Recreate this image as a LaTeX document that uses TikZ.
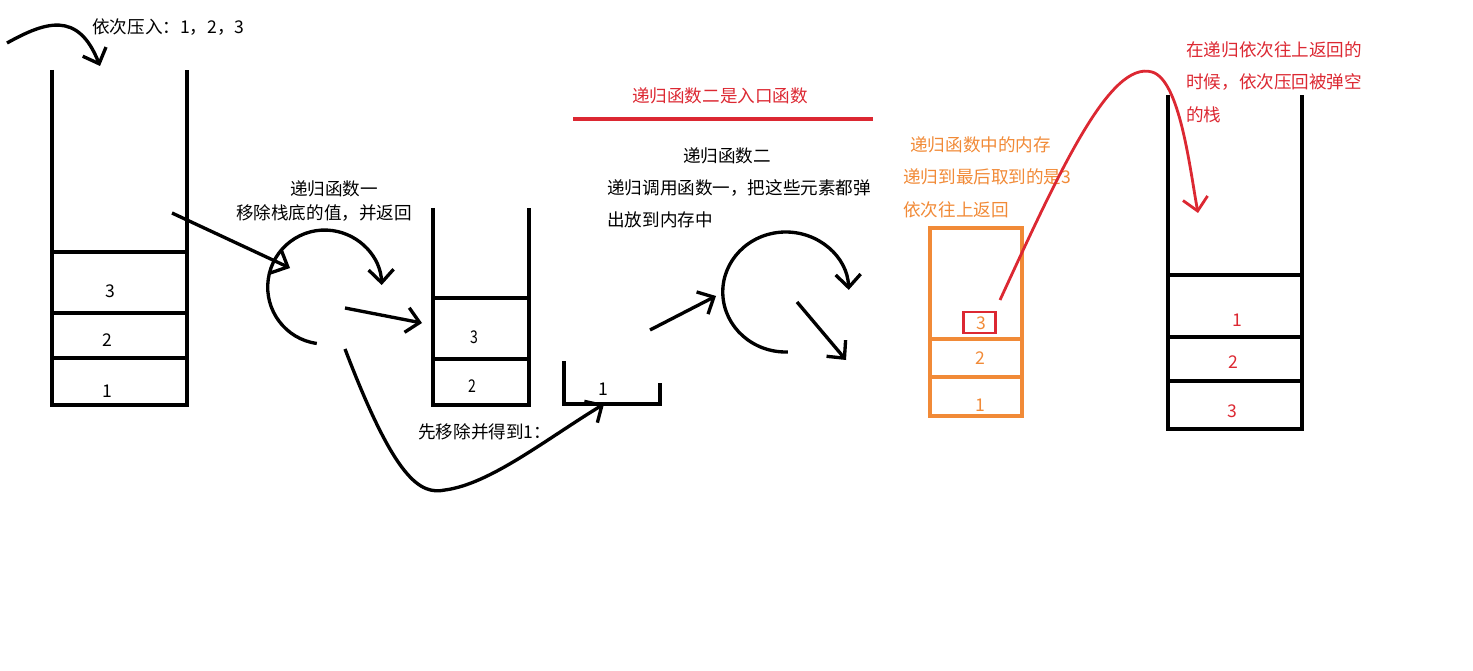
\documentclass[tikz,border=0pt]{standalone}
\usepackage{fontspec}
\newfontfamily\cjk{Noto Sans CJK SC}
\usepackage{tikz}
\usetikzlibrary{arrows.meta}
\definecolor{recred}{RGB}{220,40,50}
\definecolor{memorange}{RGB}{241,138,55}
\tikzstyle{arrow} = [line width=1.9pt,-{Straight Barb[length=2.6mm,width=5mm]}]
\tikzstyle{redarrow} = [arrow,recred,line width=1.6pt]
\tikzstyle{stack} = [line width=2pt]
\tikzstyle{lbl} = [font=\cjk\fontsize{10}{18.5}\selectfont,inner sep=0pt]
\tikzstyle{num} = [lbl]

\begin{document}
\begin{tikzpicture}[x=0.2mm,y=-0.2mm]
\useasboundingbox (0,0) rectangle (1473,671);

\draw[stack] (52,70) -- (52,405) -- (187,405) -- (187,70);
\foreach \y in {252,313,358} \draw[stack] (52,\y) -- (187,\y);
\node[num] (a3) at (110,291) {3};
\node[num] (a2) at (107,340) {2};
\node[num] (a1) at (107,391) {1};

\coordinate (pushS) at (7,43);
\coordinate (pushE) at (100,66);
\draw[arrow] (pushS) .. controls (45,22) and (78,10) .. (pushE);
\node[lbl,anchor=west] (push) at (92,27) {依次压入：1，2，3};

\node[lbl] (f1title) at (334,189) {递归函数一};
\node[lbl] (f1desc) at (324,213) {移除栈底的值，并返回};
\coordinate (c1) at (324,292);
\coordinate (in1S) at (172,213);
\coordinate (in1E) at (290,268);
\coordinate (out1S) at (345,308);
\coordinate (out1E) at (422,323);
\draw[arrow] (in1S) -- (in1E);
\draw[arrow] (c1) ++(98:52) arc[start angle=98,end angle=358,radius=57];
\draw[arrow] (out1S) -- (out1E);

\draw[stack] (433,208) -- (433,405) -- (529,405) -- (529,208);
\foreach \y in {298,359} \draw[stack] (433,\y) -- (529,\y);
\node[num,xscale=0.8] (b3) at (474,337) {3};
\node[num,xscale=0.8] (b2) at (472,386) {2};

\draw[stack] (564,361) -- (564,404) -- (660,404) -- (660,383);
\node[num] (c1num) at (603,389) {1};
\coordinate (getS) at (345,349);
\coordinate (getE) at (604,404);
\draw[arrow] (getS) .. controls (395,480) and (420,495) .. (445,490) .. controls (490,484) and (545,440) .. (getE);
\node[lbl,anchor=west] (getone) at (418,432) {先移除并得到1：};

\node[lbl,recred] (entry) at (720,96) {递归函数二是入口函数};
\coordinate (entryL) at (573,119);
\coordinate (entryR) at (873,119);
\draw[recred,line width=2pt] (entryL) -- (entryR);

\node[lbl] (f2title) at (727,156) {递归函数二};
\node[lbl,anchor=west,align=left] (f2desc) at (607,204) {递归调用函数一，把这些元素都弹\\出放到内存中};
\coordinate (c2) at (786,296);
\coordinate (in2S) at (650,330);
\coordinate (in2E) at (716,296);
\coordinate (out2S) at (797,302);
\coordinate (out2E) at (846,360);
\draw[arrow] (in2S) -- (in2E);
\draw[arrow] (c2) ++(88:56) arc[start angle=88,end angle=358,x radius=63,y radius=60];
\draw[arrow] (out2S) -- (out2E);

\node[lbl,memorange,anchor=west,align=left] (memtxt) at (903,177) {\hspace*{1.4mm}递归函数中的内存\\递归到最后取到的是3\\依次往上返回};
\draw[memorange,line width=2pt] (930,228) rectangle (1022,416);
\foreach \y in {339,377} \draw[memorange,line width=2pt] (930,\y) -- (1022,\y);
\node[num,memorange] (m3) at (981,323) {3};
\node[num,memorange] (m2) at (980,358) {2};
\node[num,memorange] (m1) at (980,405) {1};
\draw[recred,line width=1.7pt] (963,312) rectangle (995,333);

\coordinate (backS) at (1000,300);
\coordinate (backE) at (1198,213);
\draw[redarrow] (backS) .. controls (1060,170) and (1110,60) .. (1152,72) .. controls (1180,80) and (1190,170) .. (backE);
\node[lbl,recred,anchor=west,align=left] (backtxt) at (1186,82) {在递归依次往上返回的\\时候，依次压回被弹空\\的栈};

\draw[stack] (1168,95) -- (1168,429) -- (1302,429) -- (1302,95);
\foreach \y in {275,337,381} \draw[stack] (1168,\y) -- (1302,\y);
\node[num,recred] (d1) at (1237,320) {1};
\node[num,recred] (d2) at (1233,362) {2};
\node[num,recred] (d3) at (1232,411) {3};
\end{tikzpicture}
\end{document}
